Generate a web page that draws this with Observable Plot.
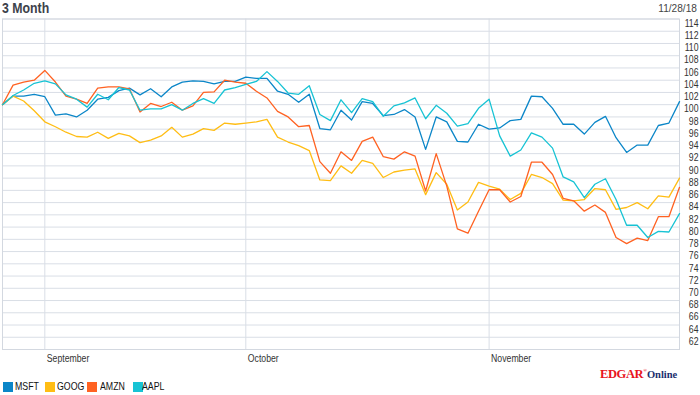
<!DOCTYPE html>
<html><head><meta charset="utf-8">
<script src="https://cdn.jsdelivr.net/npm/d3@7"></script>
<script src="https://cdn.jsdelivr.net/npm/@observablehq/plot@0.6"></script>
<style>
body{margin:0;background:#fff;}
#wrap{position:relative;width:700px;height:395px;overflow:hidden;font-family:"Liberation Sans",Arial,sans-serif;}
#title{position:absolute;left:2px;top:0px;font-weight:bold;font-size:14px;color:#3d424b;line-height:17px;transform:scaleX(0.88);transform-origin:left center;}
#date{position:absolute;right:3px;top:2px;font-size:11.5px;color:#444;line-height:13px;transform:scaleX(0.88);transform-origin:right center;}
#chart{position:absolute;left:0;top:0;}
.sw{position:absolute;top:382px;width:10px;height:10px;}
.lt{position:absolute;top:380px;font-size:11px;line-height:13px;color:#111;transform:scaleX(0.8);transform-origin:left center;}
#logo{position:absolute;left:600px;top:364px;font-family:"Liberation Serif",serif;font-weight:bold;white-space:nowrap;line-height:14px;}
</style></head><body>
<div id="wrap">
<div id="chart"></div>
<div id="title">3 Month</div>
<div id="date">11/28/18</div>
<div id="legend"></div>
<div id="logo"><span style="color:#e8141c;font-size:12.5px;letter-spacing:-0.4px">EDGAR</span><span style="color:#e8141c;font-size:5px;vertical-align:6px">®</span><span style="color:#1b2f6e;font-size:10.5px">Online</span></div>
</div>
<script>
const dates = [
"2018-08-28","2018-08-29","2018-08-30","2018-08-31",
"2018-09-04","2018-09-05","2018-09-06","2018-09-07",
"2018-09-10","2018-09-11","2018-09-12","2018-09-13","2018-09-14",
"2018-09-17","2018-09-18","2018-09-19","2018-09-20","2018-09-21",
"2018-09-24","2018-09-25","2018-09-26","2018-09-27","2018-09-28",
"2018-10-01","2018-10-02","2018-10-03","2018-10-04","2018-10-05",
"2018-10-08","2018-10-09","2018-10-10","2018-10-11","2018-10-12",
"2018-10-15","2018-10-16","2018-10-17","2018-10-18","2018-10-19",
"2018-10-22","2018-10-23","2018-10-24","2018-10-25","2018-10-26",
"2018-10-29","2018-10-30","2018-10-31",
"2018-11-01","2018-11-02",
"2018-11-05","2018-11-06","2018-11-07","2018-11-08","2018-11-09",
"2018-11-12","2018-11-13","2018-11-14","2018-11-15","2018-11-16",
"2018-11-19","2018-11-20","2018-11-21","2018-11-23",
"2018-11-26","2018-11-27","2018-11-28"];

const symbols = ["MSFT","GOOG","AMZN","AAPL"];
const colors = ["#0b86c8","#ffbd14","#ff6222","#17c3d4"];

const msft = [100,101.4,101.4,101.7,101.3,98.3,98.5,98.0,99.1,100.9,101.2,102.3,102.7,101.6,102.6,101.3,102.9,103.7,103.9,103.8,103.4,103.8,103.8,
104.5,104.3,104.3,102.2,101.7,100.4,101.7,96.1,95.9,99.1,97.5,100.5,100.2,98.2,98.4,99.2,98.0,92.7,98.0,97.2,94.0,93.9,96.8,
96.0,96.2,97.4,97.6,101.4,101.3,99.4,96.8,96.8,95.2,97.1,98.1,94.6,92.2,93.4,93.4,96.6,97.0,100.5];
const goog = [100,101.4,100.6,99.0,97.2,96.4,95.5,94.8,94.7,95.5,94.5,95.3,94.9,93.8,94.2,94.9,96.3,94.7,95.2,96.1,95.8,97.0,96.8,
97.0,97.2,97.6,94.7,93.9,93.3,92.5,87.7,87.6,90.0,88.8,90.9,90.4,88.1,89.0,89.3,89.5,85.3,88.9,87.0,82.8,84.1,87.3,
86.7,86.2,84.5,85.5,88.6,88.1,87.1,84.4,84.3,84.5,86.3,86.1,82.9,83.2,84.0,83.0,85.1,84.9,88.0];
const amzn = [100,103.2,103.7,104.0,105.6,103.7,101.4,100.9,100.2,102.7,102.9,102.9,102.6,98.8,100.2,99.7,100.4,99.1,99.8,102.0,102.1,104.0,103.7,
103.5,102.2,101.1,98.9,98.0,96.4,96.6,90.7,88.8,92.3,90.9,94.0,94.7,91.5,91.1,92.3,91.6,85.9,92.0,86.7,79.7,79.0,82.6,
86.1,86.1,84.1,85.0,90.6,90.6,88.6,84.7,84.3,82.6,83.6,82.4,78.3,77.3,78.2,77.8,81.7,81.7,86.5];
const aapl = [100,101.5,102.4,103.5,103.9,103.4,101.6,100.9,99.6,101.7,100.8,102.8,102.4,99.1,99.3,99.3,100.0,99.1,100.2,101.0,100.2,102.4,102.8,
103.3,103.8,105.4,103.8,101.9,101.7,103.1,98.4,97.4,100.8,98.7,101.0,100.5,98.1,99.8,100.3,101.1,97.7,99.9,98.6,96.5,96.9,99.4,
100.9,94.9,91.6,92.6,95.4,94.7,92.9,88.2,87.4,84.8,87.0,87.9,84.5,80.3,80.3,78.3,79.3,79.2,82.2];

const yTicks = [62,64,66,68,70,72,74,76,78,80,82,84,86,88,90,92,94,96,98,100,102,104,106,108,110,112,114];
const monthTicks = ["2018-09-04","2018-10-01","2018-11-01"];
const monthLabels = ["September","October","November"];

const seriesValues = [msft, goog, amzn, aapl];
const rows = symbols.flatMap((s, k) => dates.map((d, j) => ({date: d, value: seriesValues[k][j], symbol: s})));

const chart = Plot.plot({
  width: 700, height: 370,
  marginTop: 18.5, marginBottom: 21, marginLeft: 2, marginRight: 21,
  style: {fontFamily: '"Liberation Sans",Arial,sans-serif', fontSize: "10px", color: "#333", background: "transparent"},
  x: {type: "point", domain: dates, padding: 0, label: null},
  y: {domain: [60, 114], label: null},
  color: {domain: symbols, range: colors},
  marks: [
    Plot.gridY(yTicks, {stroke: "#d9dee6", strokeOpacity: 1}),
    Plot.ruleX(monthTicks, {stroke: "#d9dee6"}),
    Plot.frame({stroke: "#d3d8e0"}),
    Plot.axisY(yTicks, {anchor: "right", tickSize: 0, tickPadding: 19, textAnchor: "end", dy: 4.5, fill: "#333", label: null}),
    Plot.axisX(monthTicks, {anchor: "bottom", tickSize: 0, tickPadding: 5, textAnchor: "start", dx: 2, fill: "#333", label: null,
      tickFormat: d => monthLabels[monthTicks.indexOf(d)]}),
    Plot.line(rows, {x: "date", y: "value", z: "symbol", stroke: "symbol", strokeWidth: 1.3})
  ]
});
// narrow the axis text horizontally to match the condensed face of the original
chart.querySelectorAll('g[aria-label="y-axis tick label"] text, g[aria-label="x-axis tick label"] text').forEach(t => {
  const tr = t.getAttribute("transform");
  if (tr) t.setAttribute("transform", tr + " scale(0.87,1)");
});
document.getElementById("chart").appendChild(chart);

const legend = document.getElementById("legend");
const swX = [3, 45, 87, 133];
const txX = [15, 57, 100, 142];
symbols.forEach((s, k) => {
  const sw = document.createElement("div");
  sw.className = "sw"; sw.style.left = swX[k] + "px"; sw.style.background = colors[k];
  const t = document.createElement("div");
  t.className = "lt"; t.style.left = txX[k] + "px"; t.textContent = s;
  legend.appendChild(sw); legend.appendChild(t);
});
</script>
</body></html>
